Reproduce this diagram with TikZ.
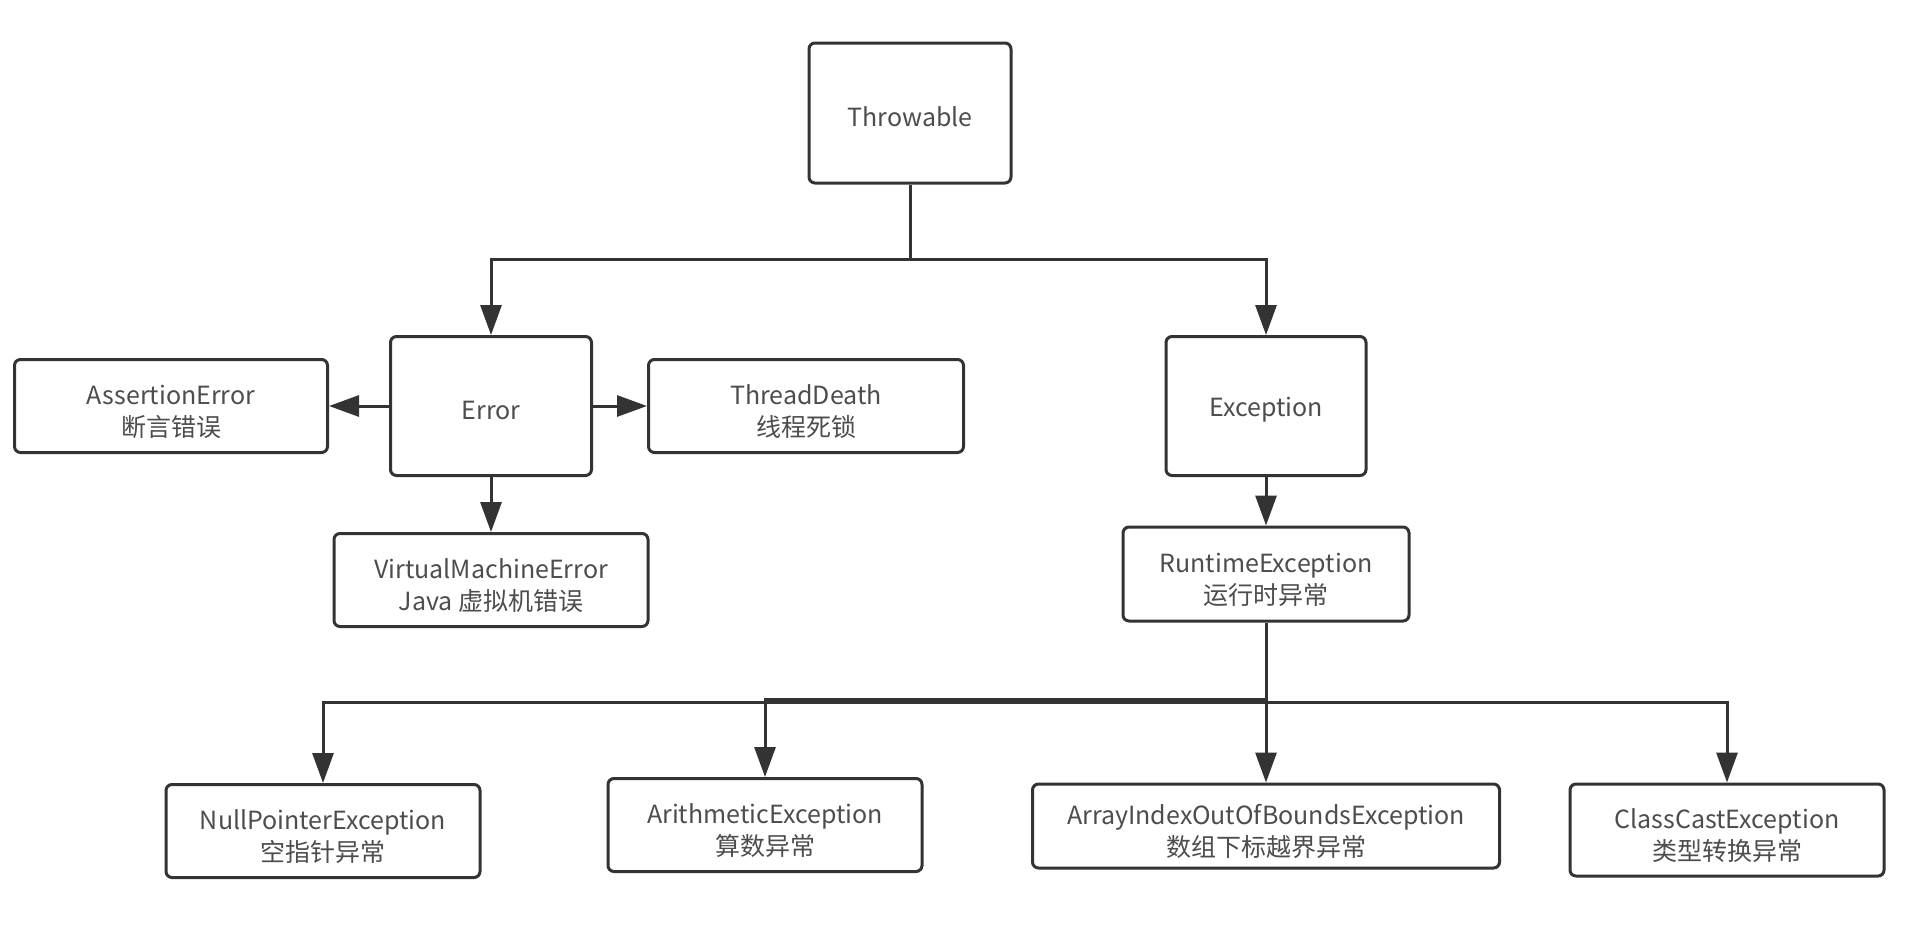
\documentclass[tikz,border=0pt]{standalone}
\usepackage{fontspec}
\setmainfont{Noto Sans CJK SC}
\usetikzlibrary{arrows.meta}

\definecolor{linegray}{HTML}{333333}
\definecolor{textgray}{HTML}{4D4D4D}

\tikzset{
  classbox/.style={draw=linegray, line width=1.5pt, rounded corners=3pt, fill=white,
    align=center, inner sep=2pt, font=\fontsize{12.5}{16}\selectfont, text=textgray},
  onebox/.style={classbox, text height=13.5pt},
  twobox/.style={classbox, text height=31.5pt},
  link/.style={draw=linegray, line width=1.5pt, -{Triangle[length=15pt,width=10.5pt]}}
}

\begin{document}
\begin{tikzpicture}[x=0.5pt, y=-0.5pt]

\useasboundingbox (0,0) rectangle (1914,928);

\node[onebox, minimum width=101pt, minimum height=70pt] (throw) at (910,113) {Throwable};

\node[onebox, minimum width=100.5pt, minimum height=69.5pt] (error) at (491,406) {Error};
\node[twobox, minimum width=156.5pt, minimum height=46.5pt] (assert) at (171,406) {AssertionError\\断言错误};
\node[twobox, minimum width=157.5pt, minimum height=46.5pt] (death) at (806,406) {ThreadDeath\\线程死锁};
\node[twobox, minimum width=157pt, minimum height=46.5pt] (vm) at (491,580) {VirtualMachineError\\Java 虚拟机错误};

\node[onebox, minimum width=100pt, minimum height=69.5pt] (exc) at (1266,406) {Exception};
\node[twobox, minimum width=143pt, minimum height=47pt] (rt) at (1266,574) {RuntimeException\\运行时异常};

\node[twobox, minimum width=157pt, minimum height=46.5pt] (npe) at (323,831) {NullPointerException\\空指针异常};
\node[twobox, minimum width=157pt, minimum height=46.5pt] (arith) at (765,825) {ArithmeticException\\算数异常};
\node[twobox, minimum width=233.5pt, minimum height=42pt] (aioobe) at (1266,826) {ArrayIndexOutOfBoundsException\\数组下标越界异常};
\node[twobox, minimum width=157pt, minimum height=46pt] (cce) at (1727,830) {ClassCastException\\类型转换异常};

% Throwable branches
\coordinate (split) at (910,259);
\draw[draw=linegray, line width=1.5pt] (throw) -- (split);
\draw[link] (split) -| (error);
\draw[link] (split) -| (exc);

% Error
\draw[link] (error) -- (assert);
\draw[link] (error) -- (death);
\draw[link] (error) -- (vm);

% Exception
\draw[link] (exc) -- (rt);
\coordinate (rtsplit) at (1266,702);
\coordinate (rtsplitb) at (1266,699);
\draw[draw=linegray, line width=1.5pt] (rt) -- (rtsplit);
\draw[link] (rtsplit) -| (npe);
\draw[link] (rtsplitb) -| (arith);
\draw[link] (rtsplit) -- (aioobe);
\draw[link] (rtsplit) -| (cce);

\end{tikzpicture}
\end{document}
